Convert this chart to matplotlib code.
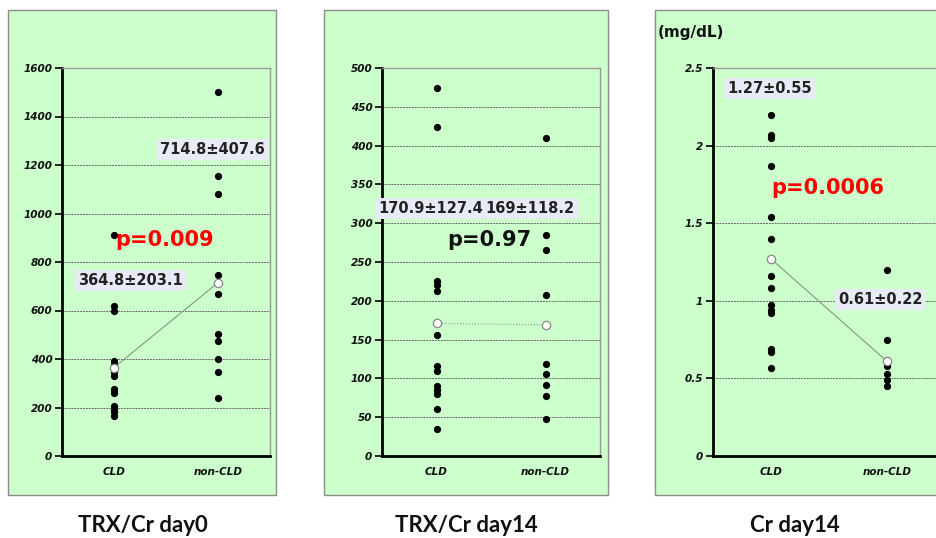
import matplotlib
matplotlib.use("Agg")
import matplotlib.pyplot as plt
from matplotlib.patches import Rectangle

W, H = 936, 538

groups = ["CLD", "non-CLD"]

# TRX/Cr day0
trx0_cld = [910, 620, 600, 390, 375, 360, 345, 330, 275, 270, 260, 205, 190, 180, 165]
trx0_non = [1500, 1155, 1080, 745, 670, 505, 475, 400, 345, 240]
trx0_means = [364.8, 714.8]
trx0_labels = ["364.8±203.1", "714.8±407.6"]
trx0_p = "p=0.009"

# TRX/Cr day14
trx14_cld = [474, 424, 226, 220, 212, 172, 156, 116, 110, 90, 85, 80, 61, 35]
trx14_non = [410, 285, 265, 207, 119, 106, 92, 77, 48]
trx14_means = [170.9, 169.0]
trx14_labels = ["170.9±127.4", "169±118.2"]
trx14_p = "p=0.97"

# Cr day14 (mg/dL)
cr14_cld = [2.2, 2.07, 2.05, 1.87, 1.54, 1.4, 1.16, 1.08, 0.97, 0.94, 0.92, 0.69, 0.67, 0.57]
cr14_non = [1.2, 0.75, 0.62, 0.6, 0.58, 0.53, 0.49, 0.45]
cr14_means = [1.27, 0.61]
cr14_labels = ["1.27±0.55", "0.61±0.22"]
cr14_p = "p=0.0006"

titles = ["TRX/Cr day0", "TRX/Cr day14", "Cr day14"]

GREEN = "#ccffcc"
BOXC = "#e8ebf5"


def px_rect(x0, y0, x1, y1):
    return [x0 / W, 1 - y1 / H, (x1 - x0) / W, (y1 - y0) / H]


def panel(fig, rect, cld, non, means, ymax, step, fmt, line_style):
    ax = fig.add_axes(rect)
    ax.set_zorder(2)
    ax.patch.set_visible(False)
    ax.plot([0] * len(cld), cld, "o", color="black", ms=4.2, zorder=3)
    ax.plot([1] * len(non), non, "o", color="black", ms=4.2, zorder=3)
    ax.plot([0, 1], means, line_style, color="#7f9a7f", lw=0.8, zorder=2)
    ax.plot([0, 1], means, "o", mfc="white", mec="#888888", ms=6, mew=0.9, zorder=4)
    ax.set_xlim(-0.5, 1.5)
    ax.set_ylim(0, ymax)
    ticks = [i * step for i in range(int(round(ymax / step)) + 1)]
    ax.set_yticks(ticks)
    ax.set_yticklabels([fmt(t) for t in ticks], fontsize=7.5, fontweight="bold",
                       fontstyle="italic", color="#111111")
    for t in ticks[1:-1]:
        ax.axhline(t, color="#666666", lw=0.7, ls=(0, (2, 1)), zorder=1)
    ax.set_xticks([0, 1])
    ax.set_xticklabels(groups, fontsize=7.5, fontweight="bold",
                       fontstyle="italic", color="#111111")
    ax.tick_params(axis="x", length=0, pad=8)
    ax.tick_params(axis="y", length=5, width=1.2, pad=2)
    for s in ["left", "bottom"]:
        ax.spines[s].set_linewidth(2)
        ax.spines[s].set_color("black")
    for s in ["top", "right"]:
        ax.spines[s].set_linewidth(1)
        ax.spines[s].set_color("#999999")
    return ax


def label(ax, x, y, s):
    ax.text(x, y, s, transform=ax.transAxes, ha="center", va="center",
            fontsize=10.5, fontweight="bold", color="#222222", zorder=5,
            bbox=dict(boxstyle="square,pad=0.2", fc=BOXC, ec="none"))


def pval(ax, x, y, s, c):
    ax.text(x, y, s, transform=ax.transAxes, ha="center", va="center",
            fontsize=15, fontweight="bold", color=c, zorder=5)


fig = plt.figure(figsize=(W / 100, H / 100), dpi=100)

bg = fig.add_axes([0, 0, 1, 1])
bg.set_zorder(0)
bg.set_xlim(0, W)
bg.set_ylim(H, 0)
bg.axis("off")
for x0, x1 in [(8, 276), (324, 608), (655, 945)]:
    bg.add_patch(Rectangle((x0, 10), x1 - x0, 485, fc=GREEN,
                           ec="#8c8c8c", lw=1))

intf = lambda t: "%d" % t
numf = lambda t: "%g" % t

ax1 = panel(fig, px_rect(62, 68, 270, 456), trx0_cld, trx0_non, trx0_means,
            1600, 200, intf, "-")
label(ax1, 0.724, 0.791, trx0_labels[1])
label(ax1, 0.33, 0.452, trx0_labels[0])
pval(ax1, 0.495, 0.557, trx0_p, "#ff0000")

ax2 = panel(fig, px_rect(382, 68, 600, 456), trx14_cld, trx14_non, trx14_means,
            500, 50, intf, ":")
label(ax2, 0.225, 0.638, trx14_labels[0])
label(ax2, 0.68, 0.638, trx14_labels[1])
pval(ax2, 0.491, 0.557, trx14_p, "#111111")

ax3 = panel(fig, px_rect(713, 68, 945, 456), cr14_cld, cr14_non, cr14_means,
            2.5, 0.5, numf, "-")
label(ax3, 0.246, 0.948, cr14_labels[0])
label(ax3, 0.72, 0.403, cr14_labels[1])
pval(ax3, 0.496, 0.691, cr14_p, "#ff0000")
fig.text(658 / W, 1 - 33 / H, "(mg/dL)", ha="left", va="center",
         fontsize=11, fontweight="bold", color="#111111", zorder=3)

for xc, t in zip([143, 466, 795], titles):
    fig.text(xc / W, 1 - 525 / H, t, ha="center", va="center",
             fontsize=16, fontweight="bold", family="Lato",
             color="#111111", zorder=3)

fig.savefig("out.png", dpi=100)
